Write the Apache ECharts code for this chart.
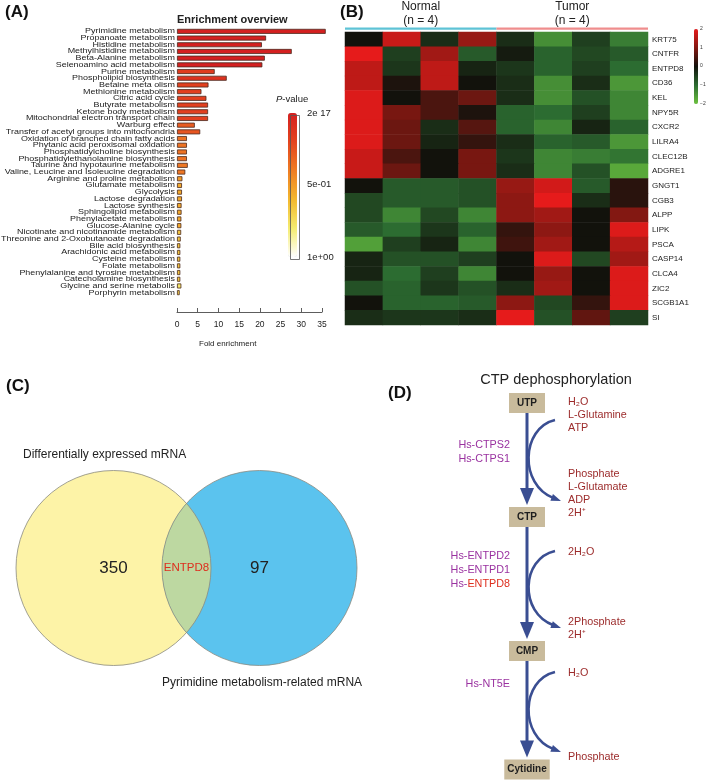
<!DOCTYPE html>
<html><head><meta charset="utf-8">
<script src="https://cdn.jsdelivr.net/npm/echarts@6/dist/echarts.min.js"></script>
<style>html,body{margin:0;padding:0;background:#fff}#c{width:709px;height:780px}</style>
</head><body><div id="c"></div>
<script>
// ---------- Panel A data ----------
const pathwayNames = [
 'Pyrimidine metabolism','Propanoate metabolism','Histidine metabolism','Methylhistidine metabolism',
 'Beta-Alanine metabolism','Selenoamino acid metabolism','Purine metabolism','Phospholipid biosynthesis',
 'Betaine meta olism','Methionine metabolism','Citric acid cycle','Butyrate metabolism',
 'Ketone body metabolism','Mitochondrial electron transport chain','Warburg effect',
 'Transfer of acetyl groups into mitochondria','Oxidation of branched chain fatty acids',
 'Phytanic acid peroxisomal oxidation','Phosphatidylcholine biosynthesis','Phosphatidylethanolamine biosynthesis',
 'Taurine and hypotaurine metabolism','Valine, Leucine and Isoleucine degradation','Arginine and proline metabolism',
 'Glutamate metabolism','Glycolysis','Lactose degradation','Lactose synthesis','Sphingolipid metabolism',
 'Phenylacetate metabolism','Glucose-Alanine cycle','Nicotinate and nicotinamide metabolism',
 'Threonine and 2-Oxobutanoate degradation','Bile acid biosynthesis','Arachidonic acid metabolism',
 'Cysteine metabolism','Folate metabolism','Phenylalanine and tyrosine metabolism','Catecholamine biosynthesis',
 'Glycine and serine metabolis','Porphyrin metabolism'];
const foldEnrichment = [35.9,21.5,20.5,27.7,21.2,20.6,9.1,12.0,7.6,5.9,7.1,7.5,7.5,7.5,4.3,5.6,
 2.4,2.4,2.4,2.4,2.6,2.0,1.3,1.2,1.2,1.2,1.1,1.1,1.05,1.05,1.0,0.9,0.8,0.8,0.8,0.8,0.8,0.8,1.05,0.65];
// colour level of the P-value (1 = 2e-17, 0 = 1e+00)
const pLevel = [1,1,1,1,1,1,0.85,0.9,0.82,0.82,0.82,0.82,0.82,0.82,0.72,0.74,
 0.64,0.64,0.64,0.64,0.62,0.62,0.5,0.45,0.45,0.45,0.45,0.45,0.45,0.45,0.35,0.35,0.35,0.35,0.35,0.35,0.35,0.35,0.22,0.3];
const pLegendLabels = ['2e 17','5e-01','1e+00'];
const foldAxisName = 'Fold enrichment';

// ---------- Panel B data ----------
const genes = ['KRT75','CNTFR','ENTPD8','CD36','KEL','NPY5R','CXCR2','LILRA4','CLEC12B','ADGRE1',
 'GNGT1','CGB3','ALPP','LIPK','PSCA','CASP14','CLCA4','ZIC2','SCGB1A1','SI'];
const samples = ['N1','N2','N3','N4','T1','T2','T3','T4'];
const groupNames = ['Normal','Tumor'];
const groupSizes = [4,4];
const zScores = [
 [0.0, 1.7,-0.3, 1.2,-0.3,-1.4,-0.5,-1.2],
 [2.0,-0.5, 1.3,-0.8,-0.1,-0.9,-0.6,-0.8],
 [1.6,-0.4, 1.6,-0.2,-0.4,-0.9,-0.5,-1.0],
 [1.6, 0.1, 1.6, 0.0,-0.3,-1.4,-0.3,-1.5],
 [1.9, 0.0, 0.5, 0.8,-0.3,-1.4,-0.7,-1.3],
 [1.9, 0.9, 0.5, 0.1,-0.9,-1.0,-0.5,-1.3],
 [1.9, 0.8,-0.3, 0.6,-0.9,-1.3,-0.2,-0.9],
 [1.9, 0.8,-0.2, 0.3,-0.3,-0.9,-0.8,-1.5],
 [1.7, 0.5, 0.0, 0.9,-0.4,-1.3,-1.2,-1.1],
 [1.7, 0.8, 0.0, 0.9,-0.3,-1.3,-0.7,-1.7],
 [0.0,-0.8,-0.8,-0.7, 1.2, 1.8,-0.8, 0.2],
 [-0.6,-0.8,-0.8,-0.7, 1.1, 2.1,-0.3, 0.2],
 [-0.6,-1.3,-0.6,-1.3, 1.1, 1.3, 0.0, 1.0],
 [-0.8,-1.0,-0.4,-0.9, 0.3, 1.1, 0.0, 1.9],
 [-1.6,-0.5,-0.2,-1.3, 0.4, 1.3, 0.0, 1.5],
 [-0.2,-0.7,-0.7,-0.5, 0.0, 1.9,-0.6, 1.3],
 [-0.2,-1.0,-0.5,-1.3, 0.0, 1.2, 0.0, 1.9],
 [-0.7,-0.9,-0.4,-0.7,-0.3, 1.3, 0.0, 1.9],
 [0.0,-0.9,-0.9,-0.8, 1.1,-0.6, 0.3, 1.9],
 [-0.3,-0.4,-0.4,-0.3, 2.1,-0.7, 0.7,-0.5]];
const zTicks = [2,1,0,-1,-2];

// ---------- Panel C data ----------
const vennSetNames = ['Differentially expressed mRNA','Pyrimidine metabolism-related mRNA'];
const vennOnly = [350, 97];
const vennShared = 'ENTPD8';

// ---------- Panel D data ----------
const pathwayTitle = 'CTP dephosphorylation';
const compounds = ['UTP','CTP','CMP','Cytidine'];
const enzymes = [['Hs-CTPS2','Hs-CTPS1'],['Hs-ENTPD2','Hs-ENTPD1','Hs-ENTPD8'],['Hs-NT5E']];
const highlightGene = 'ENTPD8';
const substrates = [['H\u2082O','L-Glutamine','ATP'],['2H\u2082O'],['H\u2082O']];
const products = [['Phosphate','L-Glutamate','ADP','2H\u207A'],['2Phosphate','2H\u207A'],['Phosphate']];

// ---------- chart ----------
const FONT = "'Liberation Sans', Arial, Helvetica, sans-serif";
const chart = echarts.init(document.getElementById('c'));

const barData = foldEnrichment.map((v, i) => [v, i, pLevel[i]]);
const labelData = pathwayNames.map((n, i) => [0, i]);
const heatData = [];
zScores.forEach((row, gi) => row.forEach((z, si) => heatData.push([si, gi, z])));

const PURPLE = '#9a32a0', DARKRED = '#9c2b2b', BRIGHTRED = '#de2e1e', NAVY = '#3a4e92';

function measure(text, font) {
  const c = measure.c || (measure.c = document.createElement('canvas').getContext('2d'));
  c.font = font; return c.measureText(text).width;
}

function renderPathwayLabel(params, api) {
  const i = api.value(1);
  const p = api.coord([0, i]);
  return {type: 'text', x: p[0] - 2, y: p[1], scaleX: 1.21,
    style: {text: pathwayNames[i], x: 0, y: 0, align: 'right', verticalAlign: 'middle', fontSize: 7.4, fontFamily: FONT, fill: '#1a1a1a'}};
}

function renderDiagrams(params, api) {
  const P = (x, y) => api.coord([x, y]);
  const ch = [];
  // ---- Venn (panel C) ----
  const c1 = P(113.5, 568), c2 = P(259.5, 568), r = api.size([97.5, 0])[0];
  const d = c2[0] - c1[0], a = d / 2, h = Math.sqrt(r * r - a * a);
  const mx = c1[0] + a, top = c1[1] - h, bot = c1[1] + h;
  ch.push({type: 'circle', shape: {cx: c1[0], cy: c1[1], r}, style: {fill: '#fdf3a7'}});
  ch.push({type: 'circle', shape: {cx: c2[0], cy: c2[1], r}, style: {fill: '#5bc3ee'}});
  ch.push({type: 'path', shape: {pathData: `M${mx},${top} A${r},${r} 0 0 1 ${mx},${bot} A${r},${r} 0 0 1 ${mx},${top} Z`},
    style: {fill: '#bdd8a1'}});
  ch.push({type: 'circle', shape: {cx: c1[0], cy: c1[1], r}, style: {fill: null, stroke: '#8a8a80', lineWidth: 0.8}});
  ch.push({type: 'circle', shape: {cx: c2[0], cy: c2[1], r}, style: {fill: null, stroke: '#8a8a80', lineWidth: 0.8}});
  ch.push({type: 'text', style: {text: String(vennOnly[0]), x: c1[0], y: c1[1], align: 'center', verticalAlign: 'middle', fontSize: 17, fontFamily: FONT, fill: '#222'}});
  ch.push({type: 'text', style: {text: String(vennOnly[1]), x: c2[0], y: c2[1], align: 'center', verticalAlign: 'middle', fontSize: 17, fontFamily: FONT, fill: '#222'}});
  ch.push({type: 'text', style: {text: vennShared, x: mx, y: c1[1], align: 'center', verticalAlign: 'middle', fontSize: 11.5, fontFamily: FONT, fill: BRIGHTRED}});
  const t1 = P(23, 455), t2 = P(162, 683);
  ch.push({type: 'text', style: {text: vennSetNames[0], x: t1[0], y: t1[1], align: 'left', verticalAlign: 'middle', fontSize: 12, fontFamily: FONT, fill: '#222'}});
  ch.push({type: 'text', style: {text: vennSetNames[1], x: t2[0], y: t2[1], align: 'left', verticalAlign: 'middle', fontSize: 12, fontFamily: FONT, fill: '#222'}});

  // ---- Pathway (panel D) ----
  const PX = 527;
  const tt = P(556, 380);
  ch.push({type: 'text', style: {text: pathwayTitle, x: tt[0], y: tt[1], align: 'center', verticalAlign: 'middle', fontSize: 14.5, fontFamily: FONT, fill: '#222'}});
  const boxY = [403, 517, 651, 769.5], boxH = 20;
  const enzY = [445, 556, 684], inY = [402, 552, 673], outY = [474, 622, 757];
  const curveY = [[420, 501], [551, 628], [672, 752]];
  const lineGap = 13;
  const TF = 10.8;
  for (let s = 0; s < 3; s++) {
    const a0 = P(PX, boxY[s] + boxH / 2), a1 = P(PX, boxY[s + 1] - boxH / 2 - 2);
    const headL = 17, headW = 7;
    ch.push({type: 'line', shape: {x1: a0[0], y1: a0[1], x2: a1[0], y2: a1[1] - headL + 2}, style: {stroke: NAVY, lineWidth: 3}});
    ch.push({type: 'polygon', shape: {points: [[a1[0] - headW, a1[1] - headL], [a1[0] + headW, a1[1] - headL], [a1[0], a1[1]]]}, style: {fill: NAVY}});
    const sy = curveY[s][0], ey = curveY[s][1];
    const S = P(555, sy), E = P(561, ey);
    const C1 = P(521, sy + (ey - sy) * 0.1), C2 = P(519, sy + (ey - sy) * 0.8);
    const dx = E[0] - C2[0], dy = E[1] - C2[1], L = Math.hypot(dx, dy), ux = dx / L, uy = dy / L;
    const hl = 10, hw = 3.6;
    const B = [E[0] - ux * hl, E[1] - uy * hl];
    ch.push({type: 'bezierCurve', shape: {x1: S[0], y1: S[1], cpx1: C1[0], cpy1: C1[1], cpx2: C2[0], cpy2: C2[1], x2: B[0] + ux * 2, y2: B[1] + uy * 2},
      style: {stroke: NAVY, lineWidth: 2.6, fill: null}});
    ch.push({type: 'polygon', shape: {points: [[B[0] - uy * hw, B[1] + ux * hw], [B[0] + uy * hw, B[1] - ux * hw], [E[0], E[1]]]}, style: {fill: NAVY}});
    enzymes[s].forEach((e, k) => {
      const p = P(510, enzY[s] + k * 13.8);
      const hi = e.endsWith(highlightGene);
      ch.push({type: 'text', style: {
        text: hi ? '{a|' + e.slice(0, e.length - highlightGene.length) + '}{b|' + highlightGene + '}' : e,
        x: p[0], y: p[1], align: 'right', verticalAlign: 'middle', fontSize: TF, fontFamily: FONT, fill: PURPLE,
        rich: {a: {fill: PURPLE, fontSize: TF, fontFamily: FONT}, b: {fill: BRIGHTRED, fontSize: TF, fontFamily: FONT}}}});
    });
    substrates[s].forEach((t, k) => {
      const p = P(568, inY[s] + k * lineGap);
      ch.push({type: 'text', style: {text: t, x: p[0], y: p[1], align: 'left', verticalAlign: 'middle', fontSize: TF, fontFamily: FONT, fill: DARKRED}});
    });
    products[s].forEach((t, k) => {
      const p = P(568, outY[s] + k * lineGap);
      ch.push({type: 'text', style: {text: t, x: p[0], y: p[1], align: 'left', verticalAlign: 'middle', fontSize: TF, fontFamily: FONT, fill: DARKRED}});
    });
  }
  compounds.forEach((cname, i) => {
    const font = 'bold 10px ' + FONT;
    const w = Math.max(36, measure(cname, font) + 6);
    const c = P(PX, boxY[i]);
    ch.push({type: 'rect', shape: {x: c[0] - w / 2, y: c[1] - boxH / 2, width: w, height: boxH}, style: {fill: '#c9bb9c'}});
    ch.push({type: 'text', style: {text: cname, x: c[0], y: c[1], align: 'center', verticalAlign: 'middle', fontSize: 10, fontWeight: 'bold', fontFamily: FONT, fill: '#1e1e1e'}});
  });
  return {type: 'group', children: ch};
}

function renderGroups(params, api) {
  const start = api.value(0), end = api.value(1), gi = api.value(2);
  const bw = api.size([1, 0])[0];
  const x0 = api.coord([start, 0])[0] - bw / 2, x1 = api.coord([end, 0])[0] + bw / 2;
  const y = params.coordSys.y;
  const col = gi === 0 ? '#5ec3d6' : '#ef8d8d';
  const cx = (x0 + x1) / 2;
  return {type: 'group', children: [
    {type: 'rect', shape: {x: x0, y: y - 4.5, width: x1 - x0, height: 2.2}, style: {fill: col}},
    {type: 'text', style: {text: groupNames[gi], x: cx, y: 7, align: 'center', verticalAlign: 'middle', fontSize: 12, fontFamily: FONT, fill: '#222'}},
    {type: 'text', style: {text: '(n = ' + groupSizes[gi] + ')', x: cx, y: 21, align: 'center', verticalAlign: 'middle', fontSize: 12, fontFamily: FONT, fill: '#222'}}
  ]};
}
const groupData = [];
let acc = 0;
groupSizes.forEach((n, gi) => { groupData.push([acc, acc + n - 1, gi]); acc += n; });

const zLegTop = 29, zLegH = 75;
const graphics = [
  {type: 'text', left: 5, top: 4, style: {text: '(A)', fontSize: 17, fontWeight: 'bold', fontFamily: FONT, fill: '#111'}},
  {type: 'text', left: 340, top: 4, style: {text: '(B)', fontSize: 17, fontWeight: 'bold', fontFamily: FONT, fill: '#111'}},
  {type: 'text', left: 6, top: 378, style: {text: '(C)', fontSize: 17, fontWeight: 'bold', fontFamily: FONT, fill: '#111'}},
  {type: 'text', left: 388, top: 385, style: {text: '(D)', fontSize: 17, fontWeight: 'bold', fontFamily: FONT, fill: '#111'}},
  {type: 'text', left: 177, top: 14, style: {text: 'Enrichment overview', fontSize: 11, fontWeight: 'bold', fontFamily: FONT, fill: '#222'}},
  {type: 'text', left: 276, top: 94, style: {text: '{i|P}-value', fontSize: 9.5, fontFamily: FONT, fill: '#222', rich: {i: {fontStyle: 'italic', fontSize: 9.5, fontFamily: FONT, fill: '#222'}}}},
  {type: 'rect', left: 288, top: 113, shape: {width: 9, height: 144}, style: {fill: null, stroke: '#555', lineWidth: 0.8}, z: 100},
  {type: 'text', left: 307, top: 108, style: {text: pLegendLabels[0], fontSize: 9.5, fontFamily: FONT, fill: '#222'}},
  {type: 'text', left: 307, top: 179, style: {text: pLegendLabels[1], fontSize: 9.5, fontFamily: FONT, fill: '#222'}},
  {type: 'text', left: 307, top: 252, style: {text: pLegendLabels[2], fontSize: 9.5, fontFamily: FONT, fill: '#222'}},
  {type: 'text', left: 199, top: 340, style: {text: foldAxisName, fontSize: 8, fontFamily: FONT, fill: '#222'}}
].concat(zTicks.map(v => ({type: 'text', left: 700, top: zLegTop + (2 - v) / 4 * zLegH - 3,
  style: {text: v < 0 ? '\u2212' + Math.abs(v) : String(v), fontSize: 5, fontFamily: FONT, fill: '#333'}})));

const option = {
  animation: false,
  textStyle: {fontFamily: FONT},
  grid: [
    {left: 177, top: 28, width: 145, height: 268},
    {left: 345, top: 32, width: 303, height: 293},
    {left: 0, top: 0, width: 709, height: 780}
  ],
  xAxis: [
    {gridIndex: 0, type: 'value', min: 0, max: 35, interval: 5, offset: 16,
      axisLine: {show: true, lineStyle: {color: '#333', width: 0.8}},
      axisTick: {show: true, inside: true, length: 4, lineStyle: {color: '#333', width: 0.8}},
      axisLabel: {fontSize: 8.5, color: '#222', margin: 8, fontFamily: FONT}, splitLine: {show: false}},
    {gridIndex: 1, type: 'category', data: samples, show: false},
    {gridIndex: 2, type: 'value', min: 0, max: 709, show: false}
  ],
  yAxis: [
    {gridIndex: 0, type: 'category', data: pathwayNames, inverse: true,
      axisLine: {show: false}, axisTick: {show: false}, axisLabel: {show: false}},
    {gridIndex: 1, type: 'category', data: genes, inverse: true, position: 'right',
      axisLine: {show: false}, axisTick: {show: false},
      axisLabel: {interval: 0, fontSize: 8, color: '#222', margin: 4, fontFamily: FONT}},
    {gridIndex: 2, type: 'value', min: 0, max: 780, inverse: true, show: false}
  ],
  visualMap: [
    {type: 'continuous', seriesIndex: 0, dimension: 2, min: 0, max: 1, calculable: false, show: true,
      left: 288, top: 113, itemWidth: 9, itemHeight: 144, padding: 0, text: null, hoverLink: false,
      inRange: {color: ['#ffffff', '#f4ec70', '#f3b82e', '#ef7d24', '#e3441f', '#d42020']}},
    {type: 'continuous', seriesIndex: 1, dimension: 2, min: -2, max: 2, calculable: false, show: true,
      left: 694, top: zLegTop, itemWidth: 4, itemHeight: zLegH, padding: 0, text: null, hoverLink: false,
      inRange: {color: ['#6cc23e', '#2c6c31', '#12120c', '#831812', '#e61b1b']}}
  ],
  series: [
    {type: 'bar', xAxisIndex: 0, yAxisIndex: 0, data: barData, encode: {x: 0, y: 1}, barWidth: 5, clip: false,
      itemStyle: {borderColor: '#4a2a1e', borderWidth: 0.8}},
    {type: 'heatmap', xAxisIndex: 1, yAxisIndex: 1, data: heatData, emphasis: {disabled: true}},
    {type: 'custom', xAxisIndex: 1, yAxisIndex: 1, data: groupData, renderItem: renderGroups, silent: true},
    {type: 'custom', xAxisIndex: 2, yAxisIndex: 2, data: [[0, 0]], renderItem: renderDiagrams, silent: true},
    {type: 'custom', xAxisIndex: 0, yAxisIndex: 0, data: labelData, renderItem: renderPathwayLabel, silent: true, clip: false}
  ],
  graphic: graphics
};
chart.setOption(option);
</script></body></html>
